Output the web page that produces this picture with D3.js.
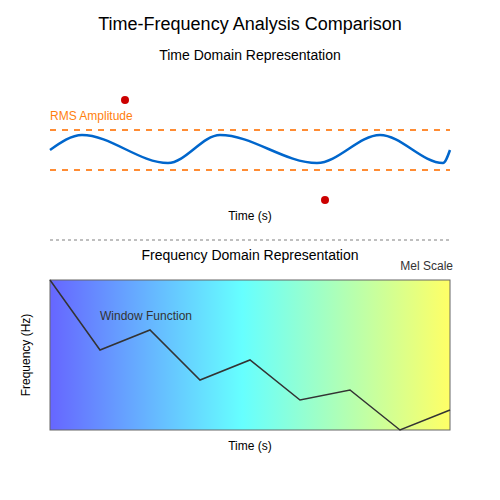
<!DOCTYPE html>
<html><head><meta charset="utf-8">
<script src="https://cdn.jsdelivr.net/npm/d3@7"></script>
<style>body{margin:0;background:#fff}</style></head>
<body><svg id="c" width="500" height="500"></svg>
<script>
const waveT = [0,32,118,170,267,330,393,400];
const waveA = [0,0.75,-0.65,0.75,-0.65,0.75,-0.65,0];
const rmsLevels = [1,-1];
const peakT = [75,275];
const peakA = [2.5,-2.5];
const winT = [0,50,100,150,200,250,300,350,400];
const winF = [1,0.533,0.667,0.333,0.467,0.2,0.267,0,0.133];

const svg = d3.select("#c");
const font = "Liberation Sans, Arial, sans-serif";
svg.append("text").attr("x",250).attr("y",30).attr("text-anchor","middle").attr("font-size",18).attr("font-family",font).text("Time-Frequency Analysis Comparison");
svg.append("text").attr("x",250).attr("y",60).attr("text-anchor","middle").attr("font-size",14).attr("font-family",font).text("Time Domain Representation");

const x = d3.scaleLinear().domain([0,400]).range([50,450]);
const y = d3.scaleLinear().domain([-1,1]).range([170,130]);
rmsLevels.forEach(v=>svg.append("line").attr("x1",50).attr("x2",450).attr("y1",y(v)).attr("y2",y(v)).attr("stroke","#ff8c33").attr("stroke-width",2).attr("stroke-dasharray","6,6"));
svg.append("text").attr("x",50).attr("y",120).attr("font-size",12).attr("fill","#ff7f0e").attr("font-family",font).text("RMS Amplitude");
svg.append("path").datum(waveT.map((t,i)=>[t,waveA[i]])).attr("d",d3.line().x(d=>x(d[0])).y(d=>y(d[1])).curve(d3.curveMonotoneX))
 .attr("fill","none").attr("stroke","#0066cc").attr("stroke-width",2.5);
peakT.forEach((t,i)=>svg.append("circle").attr("cx",x(t)).attr("cy",y(peakA[i])).attr("r",4).attr("fill","#cc0000"));
svg.append("text").attr("x",250).attr("y",220).attr("text-anchor","middle").attr("font-size",12).attr("font-family",font).text("Time (s)");
svg.append("line").attr("x1",50).attr("x2",450).attr("y1",240).attr("y2",240).attr("stroke","#aaa").attr("stroke-width",1.5).attr("stroke-dasharray","3,3");
svg.append("text").attr("x",250).attr("y",260).attr("text-anchor","middle").attr("font-size",14).attr("font-family",font).text("Frequency Domain Representation");
svg.append("text").attr("x",453).attr("y",270).attr("text-anchor","end").attr("font-size",12).attr("fill","#333").attr("font-family",font).text("Mel Scale");

const defs = svg.append("defs");
const g = defs.append("linearGradient").attr("id","grad").attr("x1","0%").attr("x2","100%");
[["0%","#6666ff"],["48%","#66ffff"],["100%","#ffff66"]].forEach(s=>g.append("stop").attr("offset",s[0]).attr("stop-color",s[1]));
const fy = d3.scaleLinear().domain([0,1]).range([430,280]);
svg.append("rect").attr("x",50).attr("y",280).attr("width",400).attr("height",150).attr("fill","url(#grad)").attr("stroke","#666").attr("stroke-width",1);
svg.append("path").datum(winT.map((t,i)=>[t,winF[i]])).attr("d",d3.line().x(d=>x(d[0])).y(d=>fy(d[1])))
 .attr("fill","none").attr("stroke","#333").attr("stroke-width",1.5);
svg.append("text").attr("x",100).attr("y",320).attr("font-size",12).attr("fill","#333").attr("font-family",font).text("Window Function");
svg.append("text").attr("transform","translate(30,355) rotate(-90)").attr("text-anchor","middle").attr("font-size",12).attr("font-family",font).text("Frequency (Hz)");
svg.append("text").attr("x",250).attr("y",450).attr("text-anchor","middle").attr("font-size",12).attr("font-family",font).text("Time (s)");
</script></body></html>
